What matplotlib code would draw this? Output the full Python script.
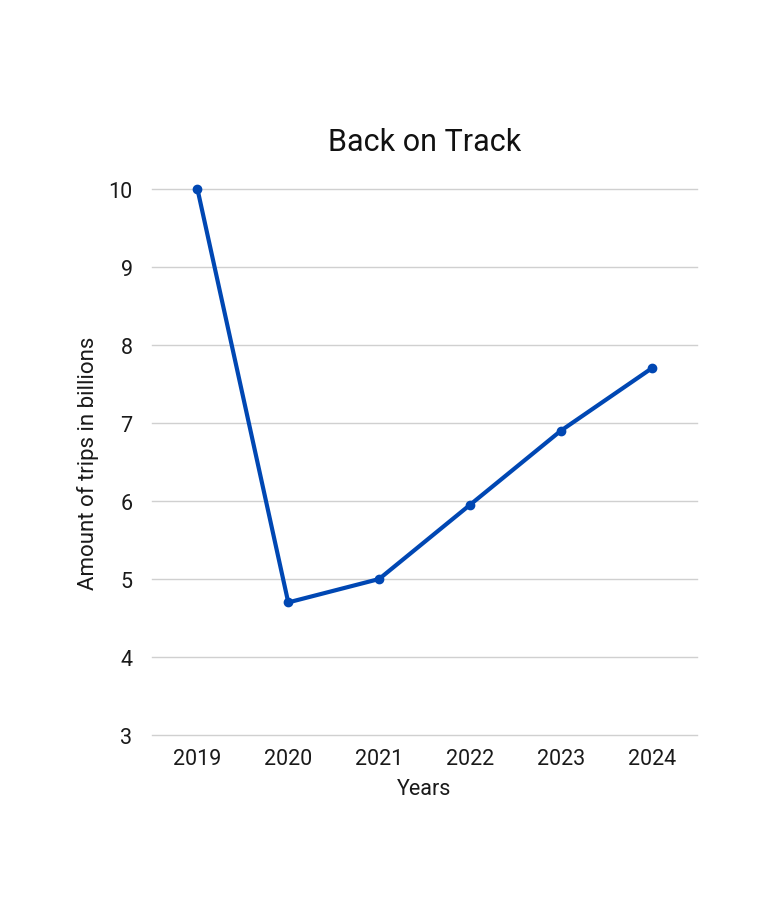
import matplotlib
matplotlib.use("Agg")
import matplotlib.pyplot as plt

plt.rcParams['font.family'] = ['Roboto', 'DejaVu Sans']

years = ["2019", "2020", "2021", "2022", "2023", "2024"]
trips = [10.0, 4.7, 5.0, 5.95, 6.9, 7.7]

fig = plt.figure(figsize=(7.74, 9.03), dpi=100)
ax = fig.add_axes([0.1964, 0.1849, 0.7041, 0.6047])

x = list(range(len(years)))
ax.plot(x, trips, color="#0047b3", linewidth=3, marker='o', markersize=6,
        solid_joinstyle='round', clip_on=False, zorder=3)

ax.set_xlim(-0.5, len(years) - 0.5)
ax.set_ylim(3, 10)
ax.set_yticks(range(3, 11))
ax.set_xticks(x)
ax.set_xticklabels(years)
ax.grid(axis='y', color="#d0d0d0", linewidth=1)
for gl in ax.get_ygridlines():
    gl.set_clip_on(False)
ax.set_axisbelow(True)
for s in ax.spines.values():
    s.set_visible(False)
ax.tick_params(length=0, labelsize=15.5, colors="#1a1a1a", pad=9)
ax.tick_params(axis='y', pad=14)

ax.set_title("Back on Track", fontsize=22, color="#111111", pad=28)
ax.set_xlabel("Years", fontsize=15.5, color="#1a1a1a", labelpad=7)
ax.set_ylabel("Amount of trips in billions", fontsize=16, color="#1a1a1a", labelpad=7)

fig.savefig("out.png", dpi=100, facecolor="white")
